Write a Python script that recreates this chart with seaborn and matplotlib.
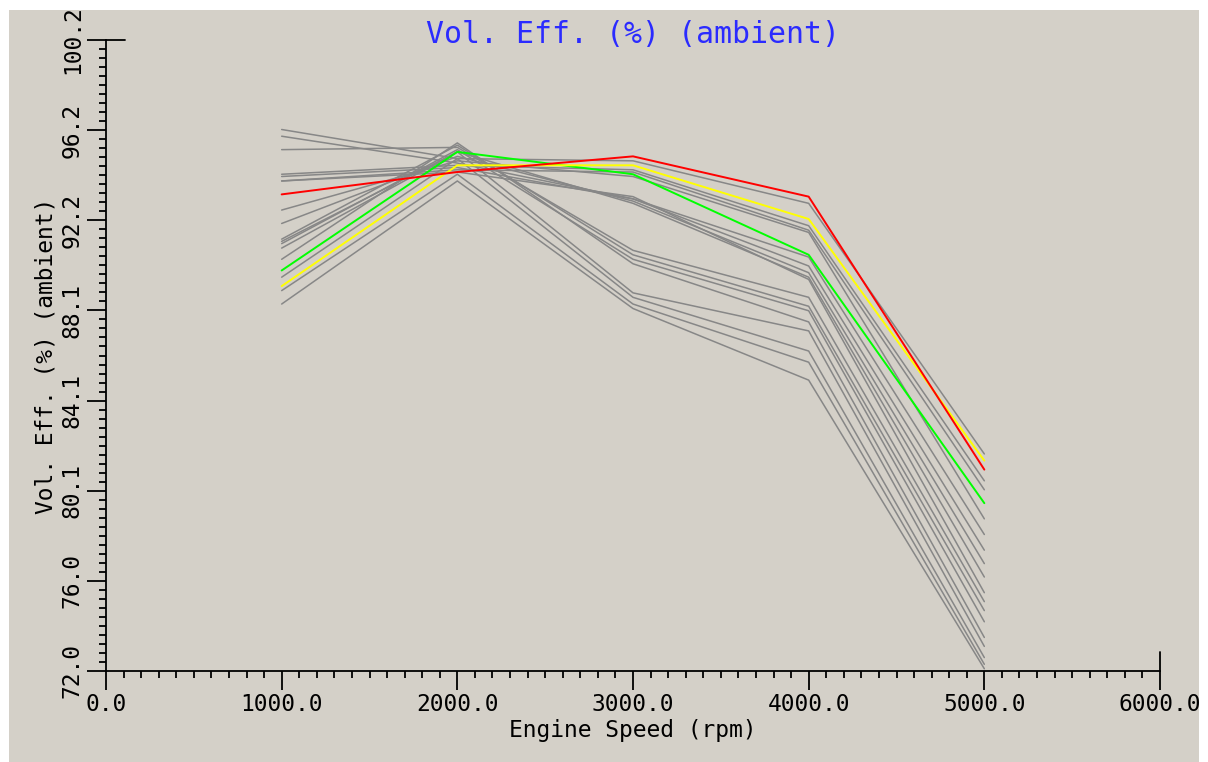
"""Volumetric efficiency vs engine speed"""

import matplotlib
matplotlib.use("Agg")
import matplotlib.pyplot as plt
from matplotlib.patches import Rectangle
from matplotlib.ticker import AutoMinorLocator, FixedLocator
import pandas as pd
import seaborn as sns

rpm = [1000, 2000, 3000, 4000, 5000]

# background runs (gray)
gray_runs = [
    [96.2, 94.9, 94.8, 92.9, 81.7],
    [94.2, 94.6, 94.4, 91.9, 80.5],
    [93.9, 94.4, 94.3, 91.7, 80.1],
    [92.6, 94.8, 94.1, 91.6, 78.8],
    [95.9, 94.7, 93.1, 90.5, 78.1],
    [94.1, 94.5, 93.1, 90.1, 77.4],
    [92.0, 95.0, 93.0, 89.8, 76.8],
    [90.9, 95.2, 92.9, 89.6, 76.2],
    [93.9, 94.3, 93.2, 89.5, 75.5],
    [95.3, 95.4, 90.8, 88.7, 75.1],
    [91.3, 95.5, 90.6, 88.3, 74.7],
    [91.1, 95.3, 90.4, 88.1, 74.2],
    [90.4, 95.6, 90.2, 87.6, 73.5],
    [91.2, 95.2, 88.9, 87.2, 73.1],
    [89.6, 94.9, 88.7, 86.3, 72.6],
    [89.0, 94.2, 88.4, 85.8, 72.3],
    [88.4, 93.9, 88.2, 85.0, 72.1],
]
green_run = [89.9, 95.2, 94.2, 90.6, 79.5]
yellow_run = [89.2, 94.6, 94.6, 92.2, 81.4]
red_run = [93.3, 94.3, 95.0, 93.2, 81.0]

y_ticks = [72.0 + k * 28.2 / 7 for k in range(8)]
y_labels = ["72.0", "76.0", "80.1", "84.1", "88.1", "92.2", "96.2", "100.2"]
x_ticks = [0, 1000, 2000, 3000, 4000, 5000, 6000]
x_labels = ["0.0", "1000.0", "2000.0", "3000.0", "4000.0", "5000.0", "6000.0"]

BG = "#d4d0c8"
FONT = "DejaVu Sans Mono"


def main() -> None:
    """Draw the chart"""
    sns.set_style("ticks")
    plt.rcParams["font.family"] = [FONT]
    plt.rcParams["text.color"] = "black"
    plt.rcParams["axes.labelcolor"] = "black"

    fig = plt.figure(figsize=(12.08, 7.62), dpi=100, facecolor="white")
    fig.patches.append(Rectangle((9 / 1208, 0), 1190 / 1208, 752 / 762,
                                 transform=fig.transFigure, facecolor=BG,
                                 edgecolor="none", zorder=-10))
    ax = fig.add_axes([106 / 1208, 91 / 762, 1054 / 1208, 631 / 762])
    ax.set_facecolor(BG)
    ax.patch.set_alpha(0)

    for run in gray_runs:
        df = pd.DataFrame({"rpm": rpm, "eff": run})
        sns.lineplot(data=df, x="rpm", y="eff", ax=ax, color="#878787",
                     lw=1.1, clip_on=False)
    for run, col in [(green_run, "#00ff00"), (yellow_run, "#ffff00"),
                     (red_run, "#ff0000")]:
        df = pd.DataFrame({"rpm": rpm, "eff": run})
        sns.lineplot(data=df, x="rpm", y="eff", ax=ax, color=col, lw=1.4,
                     clip_on=False)

    ax.set_xlim(0, 6000)
    ax.set_ylim(72.0, 100.2)
    ax.xaxis.set_major_locator(FixedLocator(x_ticks))
    ax.set_xticklabels(x_labels)
    ax.yaxis.set_major_locator(FixedLocator(y_ticks))
    ax.set_yticklabels(y_labels, rotation=90, va="center")
    ax.xaxis.set_minor_locator(AutoMinorLocator(10))
    ax.yaxis.set_minor_locator(AutoMinorLocator(10))
    ax.tick_params(which="major", length=14, width=1.3, color="black",
                   labelcolor="black", labelsize=16.5, pad=2,
                   direction="out")
    ax.tick_params(which="minor", length=5, width=1.3, color="black",
                   direction="out")
    for side in ["top", "right"]:
        ax.spines[side].set_visible(False)
    for side in ["left", "bottom"]:
        ax.spines[side].set_linewidth(1.3)
        ax.spines[side].set_color("black")

    # end caps on the axes
    ax.axvline(6000, 0, 0.03, color="black", lw=1.3, clip_on=False)
    ax.axhline(100.2, 0, 0.018, color="black", lw=1.3, clip_on=False)

    ax.set_xlabel("Engine Speed (rpm)", fontsize=16.5, labelpad=2)
    ax.set_ylabel("Vol. Eff. (%) (ambient)", fontsize=16.5, labelpad=2)
    ax.set_title("Vol. Eff. (%) (ambient)", fontsize=21.5, color="#2b2bff",
                 y=0.995, pad=0)

    fig.savefig("out.png", dpi=100, facecolor="white")


if __name__ == "__main__":
    main()
